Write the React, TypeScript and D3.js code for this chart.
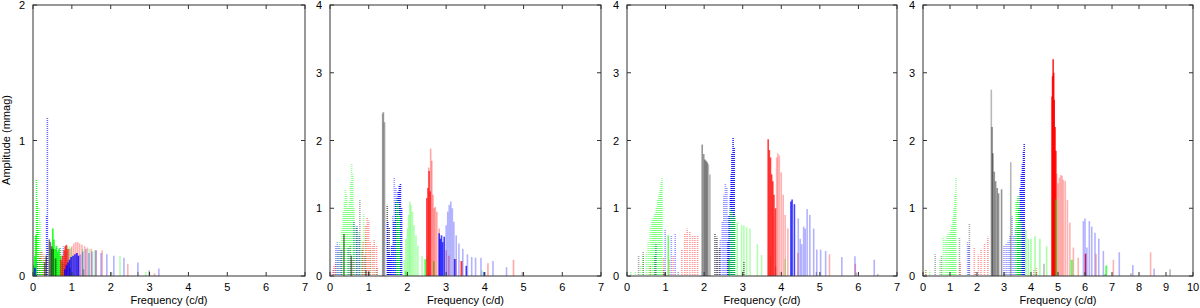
import React, { useEffect } from 'react';
import * as d3 from 'd3';

type Pt = [number, number];

// ---- panel 1 (frequency c/d, amplitude mmag) ----
const p1GreenDot: Pt[] = [[0.06, 0.3], [0.09, 0.71], [0.11, 0.55], [0.13, 0.35], [0.2, 0.12], [0.24, 0.1]];
const p1GreenLightDot: Pt[] = [[0.03, 0.12], [0.16, 0.5], [0.19, 0.4], [0.22, 0.2], [0.27, 0.15], [0.31, 0.14], [0.62, 0.22], [0.68, 0.21], [0.74, 0.2]];
const p1GrayDot: Pt[] = [[0.12, 0.18], [0.18, 0.14], [0.25, 0.1], [0.38, 0.22], [0.62, 0.12], [0.8, 0.1]];
const p1RedDot: Pt[] = [[0.14, 0.16], [0.19, 0.18], [0.23, 0.18], [0.28, 0.16], [0.32, 0.13]];
const p1BlueDot: Pt[] = [[0.07, 0.12], [0.1, 0.1], [0.35, 0.45], [0.37, 1.17]];
const p1BlueLightDot: Pt[] = [[0.6, 0.2], [0.7, 0.21], [0.78, 0.22], [0.85, 0.18]];
const p1Green: Pt[] = [[0.02, 0.08], [0.05, 0.15], [0.08, 0.3], [0.48, 0.2], [0.51, 0.35], [0.54, 0.27], [0.57, 0.2], [0.6, 0.22], [0.64, 0.18], [0.67, 0.2], [0.71, 0.15], [0.76, 0.1]];
const p1GreenLight: Pt[] = [[0.88, 0.22], [0.93, 0.22], [0.98, 0.21], [1.28, 0.2], [1.45, 0.2], [1.58, 0.19], [2.24, 0.15], [2.9, 0.03]];
const p1GrayDark: Pt[] = [[0.3, 0.1], [0.34, 0.15], [0.42, 0.27], [0.45, 0.25], [0.48, 0.22], [0.52, 0.2], [0.58, 0.13], [0.95, 0.06]];
const p1Gray: Pt[] = [[1.3, 0.05], [2.02, 0.03], [2.7, 0.03], [2.99, 0.04]];
const p1Red: Pt[] = [[0.72, 0.12], [0.76, 0.15], [0.8, 0.19], [0.83, 0.22], [0.86, 0.23], [0.9, 0.2]];
const p1RedLight: Pt[] = [[0.95, 0.2], [1.0, 0.22], [1.05, 0.24], [1.1, 0.25], [1.15, 0.25], [1.2, 0.24], [1.26, 0.23], [1.33, 0.22], [1.4, 0.21], [1.5, 0.2], [1.62, 0.19], [1.78, 0.19], [2.44, 0.09], [3.13, 0.02]];
const p1Blue: Pt[] = [[0.05, 0.06], [0.82, 0.05], [0.86, 0.08], [0.9, 0.1], [0.94, 0.12], [0.98, 0.14], [1.03, 0.15], [1.08, 0.16], [1.13, 0.17], [1.17, 0.15]];
const p1BlueLight: Pt[] = [[1.22, 0.16], [1.28, 0.18], [1.36, 0.2], [1.44, 0.17], [1.52, 0.18], [1.62, 0.19], [1.75, 0.17], [1.9, 0.16], [2.08, 0.15], [2.34, 0.135], [2.7, 0.1], [3.24, 0.055]];

// ---- panel 2 ----
const p2GreenLightDot: Pt[] = [[0.12, 0.05], [0.2, 0.35], [0.25, 0.5], [0.3, 0.7], [0.34, 0.95], [0.37, 1.1], [0.4, 1.27], [0.43, 1.18], [0.46, 1.0], [0.5, 1.1], [0.53, 1.4], [0.56, 1.66], [0.59, 1.5], [0.62, 1.0], [0.66, 0.75], [0.7, 0.72], [0.74, 0.65], [0.8, 0.55], [0.87, 0.92], [0.92, 0.6], [1.05, 0.4], [1.18, 0.1]];
const p2GrayDot: Pt[] = [[0.3, 0.4], [0.52, 0.45], [0.68, 0.72], [0.77, 1.12], [0.83, 0.4], [0.9, 0.3], [1.22, 0.12]];
const p2BlueLightDot: Pt[] = [[0.08, 0.1], [0.15, 0.45], [0.19, 0.5], [0.23, 0.45], [0.28, 0.4], [0.47, 0.42], [0.62, 0.81], [0.7, 0.75], [0.75, 0.6], [1.58, 0.45], [1.62, 0.9], [1.66, 1.45], [1.7, 1.3], [1.74, 1.1]];
const p2RedLightDot: Pt[] = [[0.05, 0.05], [0.1, 0.15], [0.14, 0.2], [0.58, 0.25], [0.85, 0.5], [0.92, 0.75], [0.96, 0.86], [1.0, 0.82], [1.04, 0.5], [1.1, 0.45], [1.14, 0.53], [1.2, 0.45]];
const p2GrayDarkDot: Pt[] = [[1.48, 1.05], [1.53, 0.71]];
const p2BlueDot: Pt[] = [[1.49, 0.8], [1.52, 0.35], [1.56, 0.3], [1.6, 0.45], [1.65, 0.8], [1.7, 1.1], [1.73, 1.15], [1.76, 1.25], [1.79, 1.33], [1.82, 1.37], [1.85, 1.0]];
const p2GreenDot: Pt[] = [[1.72, 1.14], [1.76, 1.08], [1.79, 0.9]];
const p2GrayDark: Pt[] = [[0.36, 0.62], [0.55, 0.3], [0.93, 0.08], [1.0, 0.07]];
const p2Gray: Pt[] = [[1.36, 2.4], [1.38, 2.42], [1.41, 2.27], [4.97, 0.06]];
const p2GreenLight: Pt[] = [[1.92, 0.24], [1.96, 0.55], [2.0, 0.7], [2.03, 0.9], [2.06, 1.1], [2.09, 1.05], [2.13, 0.95], [2.17, 0.75], [2.22, 0.6], [2.27, 0.45], [2.38, 0.3], [2.52, 0.3], [3.93, 0.08]];
const p2Green: Pt[] = [[1.96, 0.07], [2.46, 0.25], [2.68, 0.22]];
const p2RedLight: Pt[] = [[2.55, 1.6], [2.6, 1.88], [2.63, 1.7], [2.66, 1.2], [2.69, 1.0], [2.72, 1.02], [2.76, 0.95], [2.82, 0.7], [3.0, 0.38], [3.07, 0.3], [3.25, 0.25], [3.41, 0.22], [4.08, 0.19], [4.74, 0.24]];
const p2Red: Pt[] = [[2.5, 1.15], [2.53, 1.3], [2.56, 1.55], [2.59, 1.25], [3.39, 0.22]];
const p2Blue: Pt[] = [[2.82, 0.63], [2.85, 0.55], [2.88, 0.6], [2.91, 0.5], [2.95, 0.58], [3.22, 0.25], [3.52, 0.15], [3.98, 0.06]];
const p2BlueLight: Pt[] = [[3.0, 0.75], [3.04, 0.95], [3.08, 1.05], [3.12, 1.1], [3.16, 1.0], [3.2, 0.8], [3.26, 0.6], [3.33, 0.48], [3.43, 0.4], [3.55, 0.32], [3.66, 0.28], [3.76, 0.27], [3.9, 0.27], [4.21, 0.22], [4.56, 0.13]];

// ---- panel 3 ----
const p3GreenLightDot: Pt[] = [[0.1, 0.07], [0.22, 0.07], [0.35, 0.15], [0.42, 0.3], [0.5, 0.35], [0.55, 0.5], [0.6, 0.73], [0.64, 0.82], [0.67, 0.85], [0.7, 0.88], [0.73, 0.93], [0.76, 1.02], [0.79, 1.12], [0.82, 1.2], [0.85, 1.28], [0.88, 1.4], [0.91, 1.45]];
const p3GrayDot: Pt[] = [[0.3, 0.3], [0.42, 0.37], [0.72, 0.3], [0.95, 0.1], [1.33, 0.07]];
const p3BlueLightDot: Pt[] = [[0.75, 0.47], [0.99, 0.68], [1.15, 0.6], [1.25, 0.62], [2.35, 0.4], [2.42, 0.55], [2.47, 0.8], [2.51, 1.2], [2.55, 1.37], [2.59, 1.3], [2.63, 0.9]];
const p3RedLightDot: Pt[] = [[0.6, 0.15], [0.95, 0.28], [1.1, 0.25], [1.2, 0.3], [1.42, 0.39], [1.5, 0.63], [1.56, 0.7], [1.63, 0.65], [1.7, 0.6], [1.76, 0.6], [1.83, 0.6], [3.0, 0.08]];
const p3GrayDarkDot: Pt[] = [[2.28, 0.62], [2.33, 0.58], [2.4, 0.42], [2.62, 0.27], [3.03, 0.22]];
const p3BlueDot: Pt[] = [[2.62, 0.5], [2.65, 0.9], [2.68, 1.2], [2.7, 1.5], [2.72, 1.8], [2.75, 2.04], [2.78, 1.9]];
const p3GreenDot: Pt[] = [[2.68, 1.0], [2.72, 0.95], [2.76, 0.85], [2.8, 0.9]];
const p3Green: Pt[] = [[1.07, 0.6], [2.65, 0.25]];
const p3GrayDark: Pt[] = [[0.97, 0.05], [1.95, 1.94], [1.99, 1.8], [2.02, 1.72], [2.05, 1.7], [2.08, 1.68]];
const p3Gray: Pt[] = [[2.11, 1.65], [2.15, 1.5], [3.85, 0.14], [4.91, 0.06], [5.95, 0.05], [6.5, 0.03]];
const p3GreenLight: Pt[] = [[2.86, 0.8], [2.97, 0.75], [3.03, 0.75], [3.1, 0.72], [3.19, 0.7], [3.38, 0.47], [3.49, 0.31], [3.72, 0.3], [4.1, 0.25]];
const p3Red: Pt[] = [[3.66, 2.02], [3.69, 1.86], [3.72, 1.75], [3.75, 1.5], [3.78, 1.4], [3.81, 1.2], [3.85, 1.0]];
const p3RedLight: Pt[] = [[3.88, 1.75], [3.91, 1.81], [3.95, 1.78], [4.0, 1.53], [4.05, 1.2], [4.1, 0.9], [4.17, 0.7], [4.43, 0.34], [5.25, 0.32], [5.92, 0.18]];
const p3Blue: Pt[] = [[4.25, 1.1], [4.28, 1.13], [4.34, 1.06]];
const p3BlueLight: Pt[] = [[4.44, 0.85], [4.49, 0.55], [4.53, 0.47], [4.58, 0.73], [4.62, 0.7], [4.67, 0.99], [4.74, 0.9], [4.84, 0.7], [4.92, 0.39], [5.02, 0.39], [5.15, 0.37], [5.57, 0.28], [5.91, 0.29], [6.41, 0.24]];

// ---- panel 4 ----
const p4GreenLightDot: Pt[] = [[0.1, 0.1], [0.25, 0.08], [0.62, 0.25], [0.75, 0.58], [0.82, 0.55], [0.88, 0.6], [0.93, 0.62], [0.98, 0.63], [1.02, 0.68], [1.06, 0.75], [1.1, 0.85], [1.14, 1.0], [1.18, 1.2], [1.22, 1.45]];
const p4GrayDot: Pt[] = [[0.45, 0.32], [0.68, 0.3], [1.35, 0.56], [1.72, 0.78], [1.95, 0.07]];
const p4BlueLightDot: Pt[] = [[1.65, 0.5], [1.7, 0.45], [3.0, 0.45], [3.08, 0.47], [3.15, 0.52], [3.22, 0.6], [3.3, 0.88], [3.36, 0.6], [3.42, 0.7]];
const p4RedLightDot: Pt[] = [[0.1, 0.1], [1.38, 0.2], [1.9, 0.42], [2.05, 0.32], [2.15, 0.4], [2.28, 0.48], [2.4, 0.58], [4.1, 0.1], [4.2, 0.13]];
const p4BlueDot: Pt[] = [[3.5, 0.75], [3.55, 1.0], [3.6, 1.3], [3.64, 1.5], [3.68, 1.65], [3.72, 1.85], [3.75, 1.95]];
const p4GreenDot: Pt[] = [[3.45, 1.1], [3.5, 1.17], [3.53, 1.19], [3.57, 1.0], [3.62, 0.8]];
const p4GrayDark: Pt[] = [[2.56, 2.2], [2.59, 1.81], [2.64, 1.54], [2.69, 1.4], [2.75, 1.3], [2.8, 1.22], [2.91, 1.28]];
const p4Gray: Pt[] = [[2.53, 2.75], [3.25, 1.68], [3.02, 0.06], [4.2, 0.06], [4.48, 0.18], [6.75, 0.03], [7.7, 0.04], [9.15, 0.1]];
const p4GreenLight: Pt[] = [[3.81, 0.68], [3.9, 0.55], [4.0, 0.55], [4.15, 0.59], [4.33, 0.55], [4.58, 0.44], [5.54, 0.24], [6.8, 0.16]];
const p4Green: Pt[] = [[4.93, 1.13], [5.5, 0.24], [6.78, 0.15]];
const p4Red: Pt[] = [[4.78, 2.65], [4.8, 2.95], [4.82, 3.2], [4.84, 3.0], [4.86, 2.6], [4.89, 2.2], [4.92, 1.85], [6.02, 0.33]];
const p4RedLight: Pt[] = [[4.95, 1.51], [5.0, 1.37], [5.05, 1.45], [5.1, 1.49], [5.15, 1.48], [5.2, 1.42], [5.27, 1.4], [5.35, 1.12], [5.44, 0.79], [5.57, 0.42], [5.75, 0.27], [6.41, 0.33], [7.05, 0.24], [8.43, 0.35]];
const p4BlueLight: Pt[] = [[5.94, 0.81], [6.0, 0.85], [6.07, 0.42], [6.16, 0.81], [6.25, 0.73], [6.37, 0.64], [6.51, 0.55], [6.68, 0.37], [7.27, 0.35], [7.77, 0.16], [8.56, 0.11]];

const xMaxes = [7, 7, 7, 10];
const yMaxes = [2, 4, 4, 4];
const xLabel = 'Frequency (c/d)';
const yLabel = 'Amplitude (mmag)';

// line styles (rgb triplets, alpha given per series)
const GRAY = '0,0,0';
const BLUE = '0,0,255';
const GREEN = '0,255,0';
const RED = '255,0,0';

interface Series { data: Pt[]; color: string; opacity: number; dashed?: boolean; }

const dot = (data: Pt[], color: string, opacity: number): Series => ({ data, color, opacity, dashed: true });
const solid = (data: Pt[], color: string, opacity: number): Series => ({ data, color, opacity });

const panelSeries: Series[][] = [
  [
    dot(p1GreenLightDot, GREEN, 0.4), dot(p1GrayDot, GRAY, 0.35), dot(p1RedDot, RED, 0.4),
    dot(p1BlueLightDot, BLUE, 0.4), dot(p1GreenDot, GREEN, 0.85), dot(p1BlueDot, BLUE, 0.6),
    solid(p1GreenLight, GREEN, 0.3), solid(p1RedLight, RED, 0.3), solid(p1BlueLight, BLUE, 0.3),
    solid(p1Gray, GRAY, 0.3), solid(p1Green, GREEN, 0.85), solid(p1GrayDark, GRAY, 0.5),
    solid(p1Red, RED, 0.75), solid(p1Blue, BLUE, 0.85),
  ],
  [
    dot(p2GreenLightDot, GREEN, 0.4), dot(p2GrayDot, GRAY, 0.35), dot(p2BlueLightDot, BLUE, 0.4),
    dot(p2RedLightDot, RED, 0.4), dot(p2GrayDarkDot, GRAY, 0.6), dot(p2BlueDot, BLUE, 0.85),
    dot(p2GreenDot, GREEN, 0.75),
    solid(p2GrayDark, GRAY, 0.5), solid(p2Gray, GRAY, 0.32), solid(p2GreenLight, GREEN, 0.3),
    solid(p2Green, GREEN, 0.7), solid(p2RedLight, RED, 0.35), solid(p2Red, RED, 0.7),
    solid(p2Blue, BLUE, 0.75), solid(p2BlueLight, BLUE, 0.3),
  ],
  [
    dot(p3GreenLightDot, GREEN, 0.4), dot(p3GrayDot, GRAY, 0.35), dot(p3BlueLightDot, BLUE, 0.4),
    dot(p3RedLightDot, RED, 0.4), dot(p3GrayDarkDot, GRAY, 0.6), dot(p3BlueDot, BLUE, 0.85),
    dot(p3GreenDot, GREEN, 0.65),
    solid(p3Green, GREEN, 0.6), solid(p3GrayDark, GRAY, 0.42), solid(p3Gray, GRAY, 0.28),
    solid(p3GreenLight, GREEN, 0.3), solid(p3Red, RED, 0.75), solid(p3RedLight, RED, 0.3),
    solid(p3Blue, BLUE, 0.75), solid(p3BlueLight, BLUE, 0.3),
  ],
  [
    dot(p4GreenLightDot, GREEN, 0.4), dot(p4GrayDot, GRAY, 0.35), dot(p4BlueLightDot, BLUE, 0.4),
    dot(p4RedLightDot, RED, 0.4), dot(p4BlueDot, BLUE, 0.8), dot(p4GreenDot, GREEN, 0.65),
    solid(p4GrayDark, GRAY, 0.42), solid(p4Gray, GRAY, 0.28), solid(p4GreenLight, GREEN, 0.35),
    solid(p4RedLight, RED, 0.3), solid(p4Red, RED, 0.85), solid(p4Green, GREEN, 0.6),
    solid(p4BlueLight, BLUE, 0.3),
  ],
];

// plot frames in page pixels
const frames = [
  { left: 33, right: 305 },
  { left: 330, right: 601 },
  { left: 627, right: 897 },
  { left: 923, right: 1193 },
];
const top = 5;
const bottom = 276;
const font = '"Liberation Sans", Arial, Helvetica, sans-serif';

const patId = (s: Series) => `dot-${s.color.replace(/,/g, '-')}-${Math.round(s.opacity * 100)}`;

// striped paint patterns for the dotted impulses (dasharray renders grey here)
const dottedStyles = Array.from(
  new Map(panelSeries.flat().filter(s => s.dashed).map(s => [patId(s), s])).values()
);

const Panel: React.FC<{ idx: number }> = ({ idx }) => {
  const { left, right } = frames[idx];
  const x = d3.scaleLinear().domain([0, xMaxes[idx]]).range([left, right]);
  const y = d3.scaleLinear().domain([0, yMaxes[idx]]).range([bottom, top]);
  const xTicks = d3.range(0, xMaxes[idx] + 1);
  const yTicks = d3.range(0, yMaxes[idx] + 1);

  return (
    <g>
      {panelSeries[idx].map((s, si) =>
        s.data.map(([f, a], i) =>
          s.dashed ? (
            <rect key={`${si}-${i}`} x={x(f) - 0.8} width={1.6} y={y(a)} height={y(0) - y(a)}
              fill={`url(#${patId(s)})`} />
          ) : (
            <line key={`${si}-${i}`} x1={x(f)} x2={x(f)} y1={y(0)} y2={y(a)}
              stroke={`rgba(${s.color},${s.opacity})`} strokeWidth={1.6} />
          )
        )
      )}
      {/* frame */}
      <rect x={left} y={top} width={right - left} height={bottom - top}
        fill="none" stroke="#333" strokeWidth={1} />
      {yTicks.map(t => (
        <g key={`y${t}`}>
          <line x1={left} x2={left + 4} y1={y(t)} y2={y(t)} stroke="#333" />
          <line x1={right - 4} x2={right} y1={y(t)} y2={y(t)} stroke="#333" />
          <text x={left - 8} y={y(t) + 4} textAnchor="end" fontSize={11} fontFamily={font} fill="#000">{t}</text>
        </g>
      ))}
      {xTicks.map(t => (
        <g key={`x${t}`}>
          <line x1={x(t)} x2={x(t)} y1={bottom} y2={bottom - 4} stroke="#333" />
          <line x1={x(t)} x2={x(t)} y1={top} y2={top + 4} stroke="#333" />
          <text x={x(t)} y={bottom + 15} textAnchor="middle" fontSize={11} fontFamily={font} fill="#000">{t}</text>
        </g>
      ))}
      <text x={(left + right) / 2} y={304} textAnchor="middle" fontSize={11} fontFamily={font} fill="#000">{xLabel}</text>
    </g>
  );
};

const App: React.FC = () => {
  useEffect(() => {
    document.body.style.margin = '0';
  }, []);

  return (
    <svg width={1200} height={308} style={{ display: 'block', background: '#fff' }}>
      <defs>
        {dottedStyles.map(s => (
          <pattern key={patId(s)} id={patId(s)} patternUnits="userSpaceOnUse" width={4} height={2}>
            <rect x={0} y={0} width={4} height={1} fill={`rgba(${s.color},${s.opacity})`} />
          </pattern>
        ))}
      </defs>
      {frames.map((_, i) => <Panel key={i} idx={i} />)}
      <text transform="translate(10,140) rotate(-90)" textAnchor="middle" fontSize={11}
        fontFamily={font} fill="#000">{yLabel}</text>
    </svg>
  );
};

export default App;
